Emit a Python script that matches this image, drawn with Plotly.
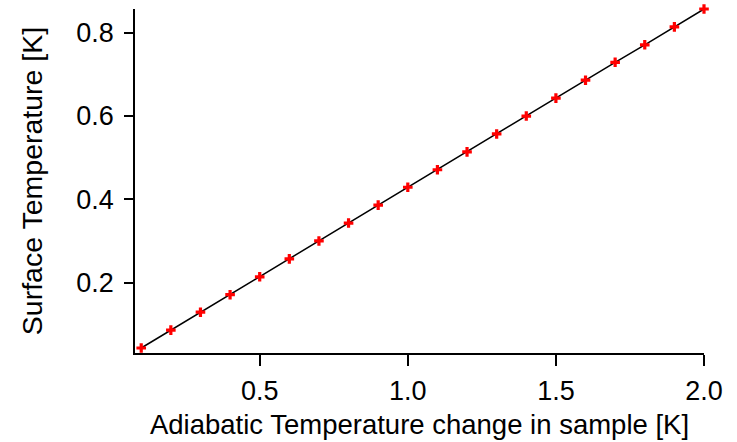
import plotly.graph_objects as go

x_vals = [0.1, 0.2, 0.3, 0.4, 0.5, 0.6, 0.7, 0.8, 0.9, 1.0,
          1.1, 1.2, 1.3, 1.4, 1.5, 1.6, 1.7, 1.8, 1.9, 2.0]
y_vals = [0.043, 0.086, 0.129, 0.171, 0.214, 0.257, 0.300, 0.343, 0.386, 0.429,
          0.471, 0.514, 0.557, 0.600, 0.643, 0.686, 0.729, 0.771, 0.814, 0.857]
x_ticks = [0.5, 1.0, 1.5, 2.0]
x_ticklabels = ["0.5", "1.0", "1.5", "2.0"]
y_ticks = [0.2, 0.4, 0.6, 0.8]
y_ticklabels = ["0.2", "0.4", "0.6", "0.8"]

fig = go.Figure()
fig.add_trace(go.Scatter(
    x=x_vals, y=y_vals, mode="lines",
    line=dict(color="black", width=1.5),
    cliponaxis=False, showlegend=False, hoverinfo="skip"))
fig.add_trace(go.Scatter(
    x=x_vals, y=y_vals, mode="markers",
    marker=dict(symbol="cross", size=8, color="#ff0000", line=dict(width=0)),
    cliponaxis=False, showlegend=False))

font_family = "Liberation Sans, Arial, sans-serif"
fig.update_layout(
    width=737, height=442,
    margin=dict(l=135, r=33, t=9, b=89),
    paper_bgcolor="white", plot_bgcolor="white",
    font=dict(family=font_family, color="black"),
    xaxis=dict(
        range=[0.079, 2.0], tickvals=x_ticks, ticktext=x_ticklabels,
        ticks="outside", ticklen=11, tickwidth=1.5, tickcolor="black",
        showline=True, linecolor="black", linewidth=1.5,
        showgrid=False, zeroline=False, automargin=False,
        ticklabelstandoff=2,
        tickfont=dict(size=27, family=font_family),
        title=dict(text="Adiabatic Temperature change in sample [K]",
                   font=dict(size=27.5, family=font_family), standoff=10),
    ),
    yaxis=dict(
        range=[0.031, 0.857], tickvals=y_ticks, ticktext=y_ticklabels,
        ticks="outside", ticklen=9, tickwidth=1.5, tickcolor="black",
        showline=True, linecolor="black", linewidth=1.5,
        showgrid=False, zeroline=False, automargin=False,
        ticklabelstandoff=5,
        tickfont=dict(size=27, family=font_family),
        title=dict(text="Surface Temperature [K]",
                   font=dict(size=28.5, family=font_family), standoff=25),
    ),
)

fig.write_html("out.html", config={"displayModeBar": False},
               post_script="document.body.style.margin='0';")
